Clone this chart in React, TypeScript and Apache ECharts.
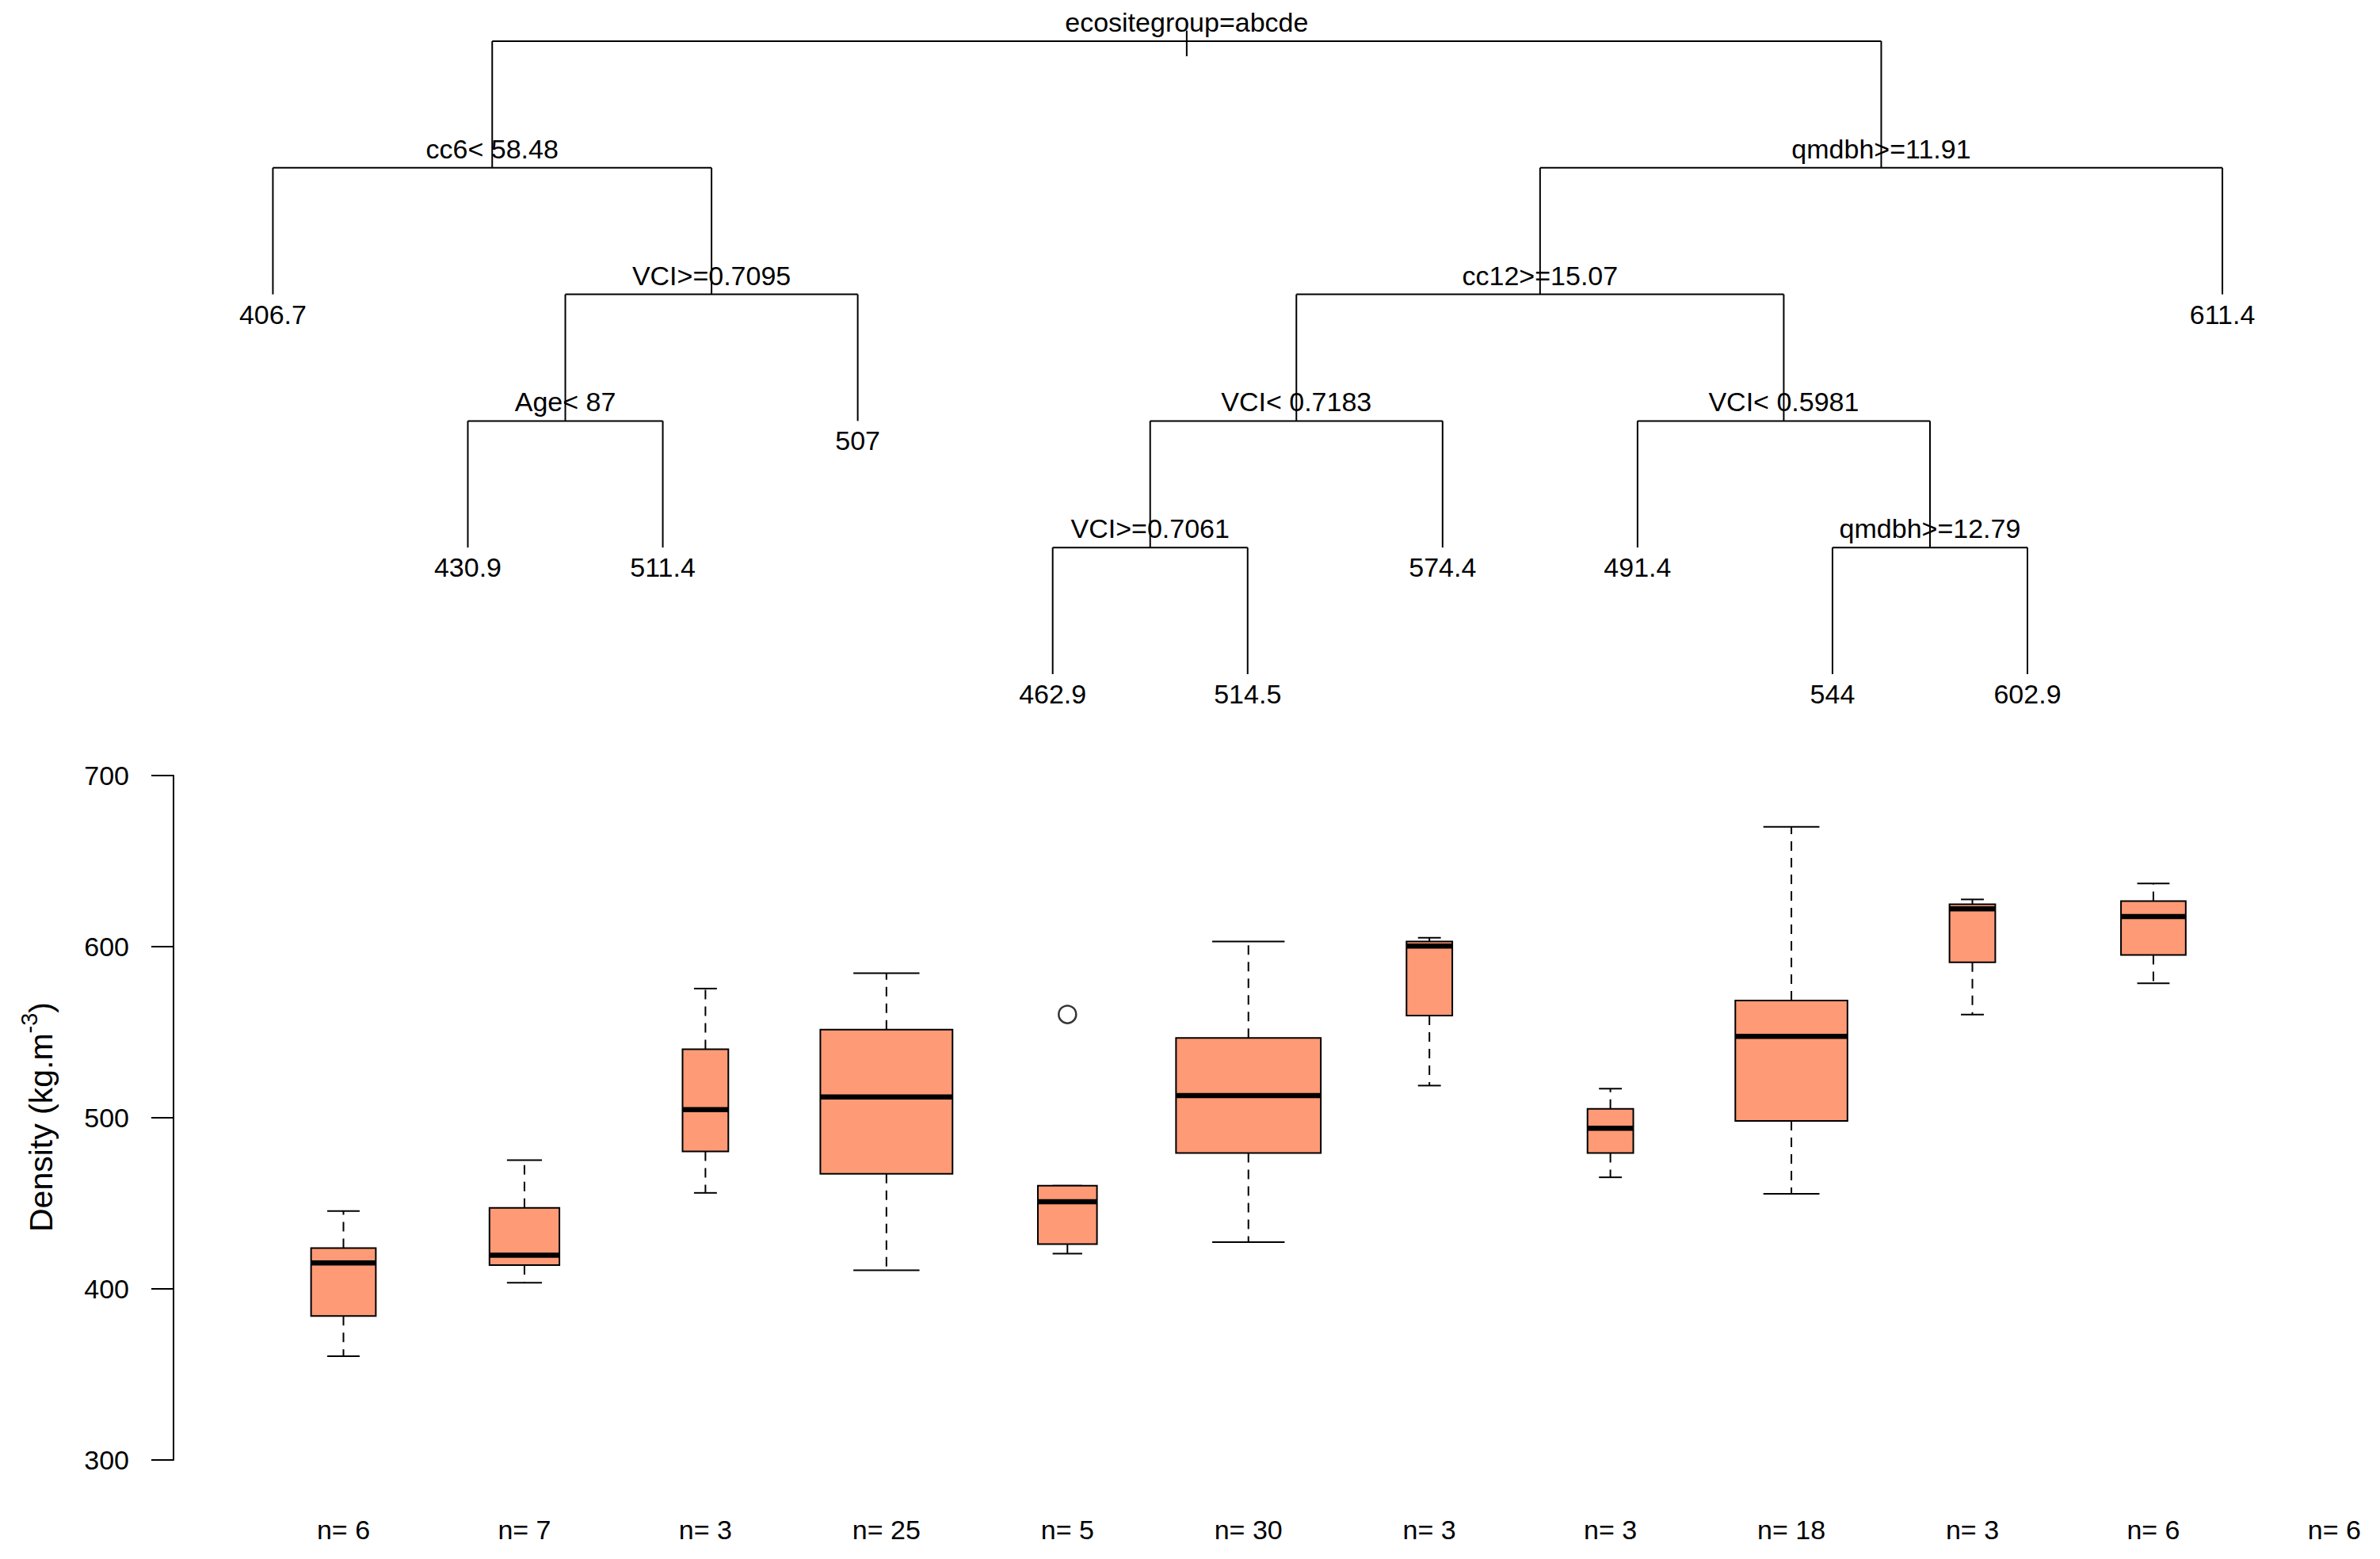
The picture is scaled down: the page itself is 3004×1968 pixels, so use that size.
import React, { useEffect, useRef } from "react";
import * as echarts from "echarts";

// ---------- data ----------
const treeLabels = [
  "ecositegroup=abcde", "cc6< 58.48", "406.7", "VCI>=0.7095", "Age< 87", "430.9", "511.4", "507",
  "qmdbh>=11.91", "cc12>=15.07", "VCI< 0.7183", "VCI>=0.7061", "462.9", "514.5", "574.4",
  "VCI< 0.5981", "491.4", "qmdbh>=12.79", "544", "602.9", "611.4",
];
const treeParents = [-1, 0, 1, 1, 3, 4, 4, 3, 0, 8, 9, 10, 11, 11, 10, 9, 15, 15, 17, 17, 8];

const groupCounts = [6, 7, 3, 25, 5, 30, 3, 3, 18, 3, 6, 6];
const whiskerLow = [360.6, 403.6, 456.1, 410.9, 420.6, 427.3, 518.8, 465.2, 455.5, 560.3, 578.6];
const quartile1 = [384.2, 413.9, 480.3, 467.3, 426.1, 479.4, 559.7, 479.4, 498.2, 590.9, 595.1];
const medians = [415.2, 419.7, 504.8, 512.1, 450.9, 513.0, 600.3, 493.9, 547.6, 622.1, 617.6];
const quartile3 = [423.9, 447.3, 540.0, 551.5, 460.3, 546.7, 603.0, 505.2, 568.5, 624.8, 626.6];
const whiskerHigh = [445.5, 475.2, 575.5, 584.5, 460.3, 603.0, 605.2, 517.0, 670.0, 627.6, 636.9];
const outliers = [[5, 560.4]];
const yTicks = [300, 400, 500, 600, 700];

const FONT = "Liberation Sans, Arial, Helvetica, sans-serif";
const FILL = "#FE9A76";

// ---------- tree layout (from structure) ----------
type Node = { x: number; depth: number; pDepth: number; lx: number; rx: number; leaf: boolean; root: boolean };
function layoutTree(): Node[] {
  const n = treeLabels.length;
  const kids: number[][] = Array.from({ length: n }, () => []);
  treeParents.forEach((p, i) => { if (p >= 0) kids[p].push(i); });
  const xs = new Array(n).fill(0);
  const ds = new Array(n).fill(0);
  let leafIdx = 0;
  const visit = (i: number, d: number) => {
    ds[i] = d;
    if (kids[i].length === 0) { leafIdx += 1; xs[i] = leafIdx; return; }
    kids[i].forEach((c) => visit(c, d + 1));
    xs[i] = (xs[kids[i][0]] + xs[kids[i][kids[i].length - 1]]) / 2;
  };
  visit(0, 0);
  return treeLabels.map((_, i) => ({
    x: xs[i],
    depth: ds[i],
    pDepth: treeParents[i] >= 0 ? ds[treeParents[i]] : 0,
    lx: kids[i].length ? xs[kids[i][0]] : xs[i],
    rx: kids[i].length ? xs[kids[i][kids[i].length - 1]] : xs[i],
    leaf: kids[i].length === 0,
    root: treeParents[i] < 0,
  }));
}

export default function App() {
  const ref = useRef<HTMLDivElement>(null);
  useEffect(() => {
    if (!ref.current) return;
    const chart = echarts.init(ref.current, undefined, { renderer: "svg" });
    const nodes = layoutTree();
    const maxN = Math.max(...groupCounts.slice(0, medians.length));
    const boxData = medians.map((m, i) => [i + 1, whiskerLow[i], quartile1[i], m, quartile3[i], whiskerHigh[i], groupCounts[i]]);
    const nData = groupCounts.map((c, i) => [i + 1, yTicks[0]]);

    const option: any = {
      animation: false,
      backgroundColor: "#ffffff",
      grid: [
        { left: 221.4, top: 52, width: 2706.7, height: 799 },
        { left: 219, top: 979, width: 2773.1, height: 864 },
      ],
      xAxis: [
        { type: "value", gridIndex: 0, min: 0.5, max: 11.5, show: false },
        { type: "value", gridIndex: 1, min: 0.06106, max: 12.2, show: false },
      ],
      yAxis: [
        { type: "value", gridIndex: 0, min: 0, max: 5, inverse: true, show: false },
        {
          type: "value", gridIndex: 1, min: 300, max: 700, interval: 100,
          axisLine: { show: true, lineStyle: { color: "#000", width: 2 } },
          axisTick: { show: true, length: 28, lineStyle: { color: "#000", width: 2 } },
          axisLabel: { color: "#000", fontSize: 34, fontFamily: FONT, margin: 56 },
          splitLine: { show: false },
        },
      ],
      graphic: [
        {
          type: "text", x: 52, y: 1410, rotation: Math.PI / 2,
          style: {
            text: "{a|Density (kg.m}{b|-3}{a|)}",
            align: "center", verticalAlign: "middle",
            rich: {
              a: { fontSize: 41, fontFamily: FONT, fill: "#000", lineHeight: 60, verticalAlign: "middle" },
              b: { fontSize: 29, fontFamily: FONT, fill: "#000", lineHeight: 60, verticalAlign: "top" },
            },
          },
        },
      ],
      series: [
        {
          type: "custom", xAxisIndex: 0, yAxisIndex: 0, clip: false,
          data: nodes.map((n) => [n.x, n.depth]),
          encode: { x: 0, y: 1 },
          renderItem: (params: any, api: any) => {
            const n = nodes[params.dataIndex];
            const p = api.coord([n.x, n.depth]);
            const ls = { stroke: "#000", lineWidth: 2 };
            const ch: any[] = [];
            if (n.root) {
              const a = api.coord([n.x, -0.084]);
              const b = api.coord([n.x, 0.119]);
              ch.push({ type: "line", shape: { x1: a[0], y1: a[1], x2: b[0], y2: b[1] }, style: ls });
            } else {
              const a = api.coord([n.x, n.pDepth]);
              ch.push({ type: "line", shape: { x1: a[0], y1: a[1], x2: p[0], y2: p[1] }, style: ls });
            }
            if (!n.leaf) {
              const l = api.coord([n.lx, n.depth]);
              const r = api.coord([n.rx, n.depth]);
              ch.push({ type: "line", shape: { x1: l[0], y1: l[1], x2: r[0], y2: r[1] }, style: ls });
              ch.push({
                type: "text", z2: 10,
                style: { text: treeLabels[params.dataIndex], x: p[0], y: p[1] - 24, align: "center", verticalAlign: "middle", fontSize: 34, fontFamily: FONT, fill: "#000" },
              });
            } else {
              ch.push({
                type: "text",
                style: { text: treeLabels[params.dataIndex], x: p[0], y: p[1] + 25, align: "center", verticalAlign: "middle", fontSize: 34, fontFamily: FONT, fill: "#000" },
              });
            }
            return { type: "group", children: ch };
          },
        },
        {
          type: "custom", xAxisIndex: 1, yAxisIndex: 1, clip: false,
          data: boxData,
          encode: { x: 0, y: [1, 2, 3, 4, 5] },
          renderItem: (params: any, api: any) => {
            const x = api.value(0);
            const cnt = api.value(6);
            const w = api.size([1, 0])[0] * 0.8 * Math.sqrt(cnt / maxN);
            const lo = api.coord([x, api.value(1)]);
            const q1 = api.coord([x, api.value(2)]);
            const md = api.coord([x, api.value(3)]);
            const q3 = api.coord([x, api.value(4)]);
            const hi = api.coord([x, api.value(5)]);
            const cx = lo[0];
            const dash = { stroke: "#000", lineWidth: 2, lineDash: [12, 9] };
            const solid = { stroke: "#000", lineWidth: 2 };
            return {
              type: "group",
              children: [
                { type: "line", shape: { x1: cx, y1: q3[1], x2: cx, y2: hi[1] }, style: dash },
                { type: "line", shape: { x1: cx, y1: q1[1], x2: cx, y2: lo[1] }, style: dash },
                { type: "line", shape: { x1: cx - w / 4, y1: hi[1], x2: cx + w / 4, y2: hi[1] }, style: solid },
                { type: "line", shape: { x1: cx - w / 4, y1: lo[1], x2: cx + w / 4, y2: lo[1] }, style: solid },
                { type: "rect", shape: { x: cx - w / 2, y: q3[1], width: w, height: q1[1] - q3[1] }, style: { fill: FILL, stroke: "#000", lineWidth: 2 } },
                { type: "line", shape: { x1: cx - w / 2, y1: md[1], x2: cx + w / 2, y2: md[1] }, style: { stroke: "#000", lineWidth: 6.5 } },
              ],
            };
          },
        },
        {
          type: "scatter", xAxisIndex: 1, yAxisIndex: 1,
          data: outliers, symbol: "circle", symbolSize: 22,
          itemStyle: { color: "rgba(0,0,0,0)", borderColor: "#000", borderWidth: 2.5 },
        },
        {
          type: "custom", xAxisIndex: 1, yAxisIndex: 1, clip: false,
          data: nData, encode: { x: 0, y: 1 },
          renderItem: (params: any, api: any) => {
            const p = api.coord([api.value(0), api.value(1)]);
            return {
              type: "text",
              style: { text: "n= " + groupCounts[params.dataIndex], x: p[0], y: p[1] + 88, align: "center", verticalAlign: "middle", fontSize: 34, fontFamily: FONT, fill: "#000" },
            };
          },
        },
      ],
    };
    chart.setOption(option);
    return () => chart.dispose();
  }, []);
  return <div ref={ref} style={{ position: "absolute", left: 0, top: 0, width: 3004, height: 1968, background: "#fff" }} />;
}
